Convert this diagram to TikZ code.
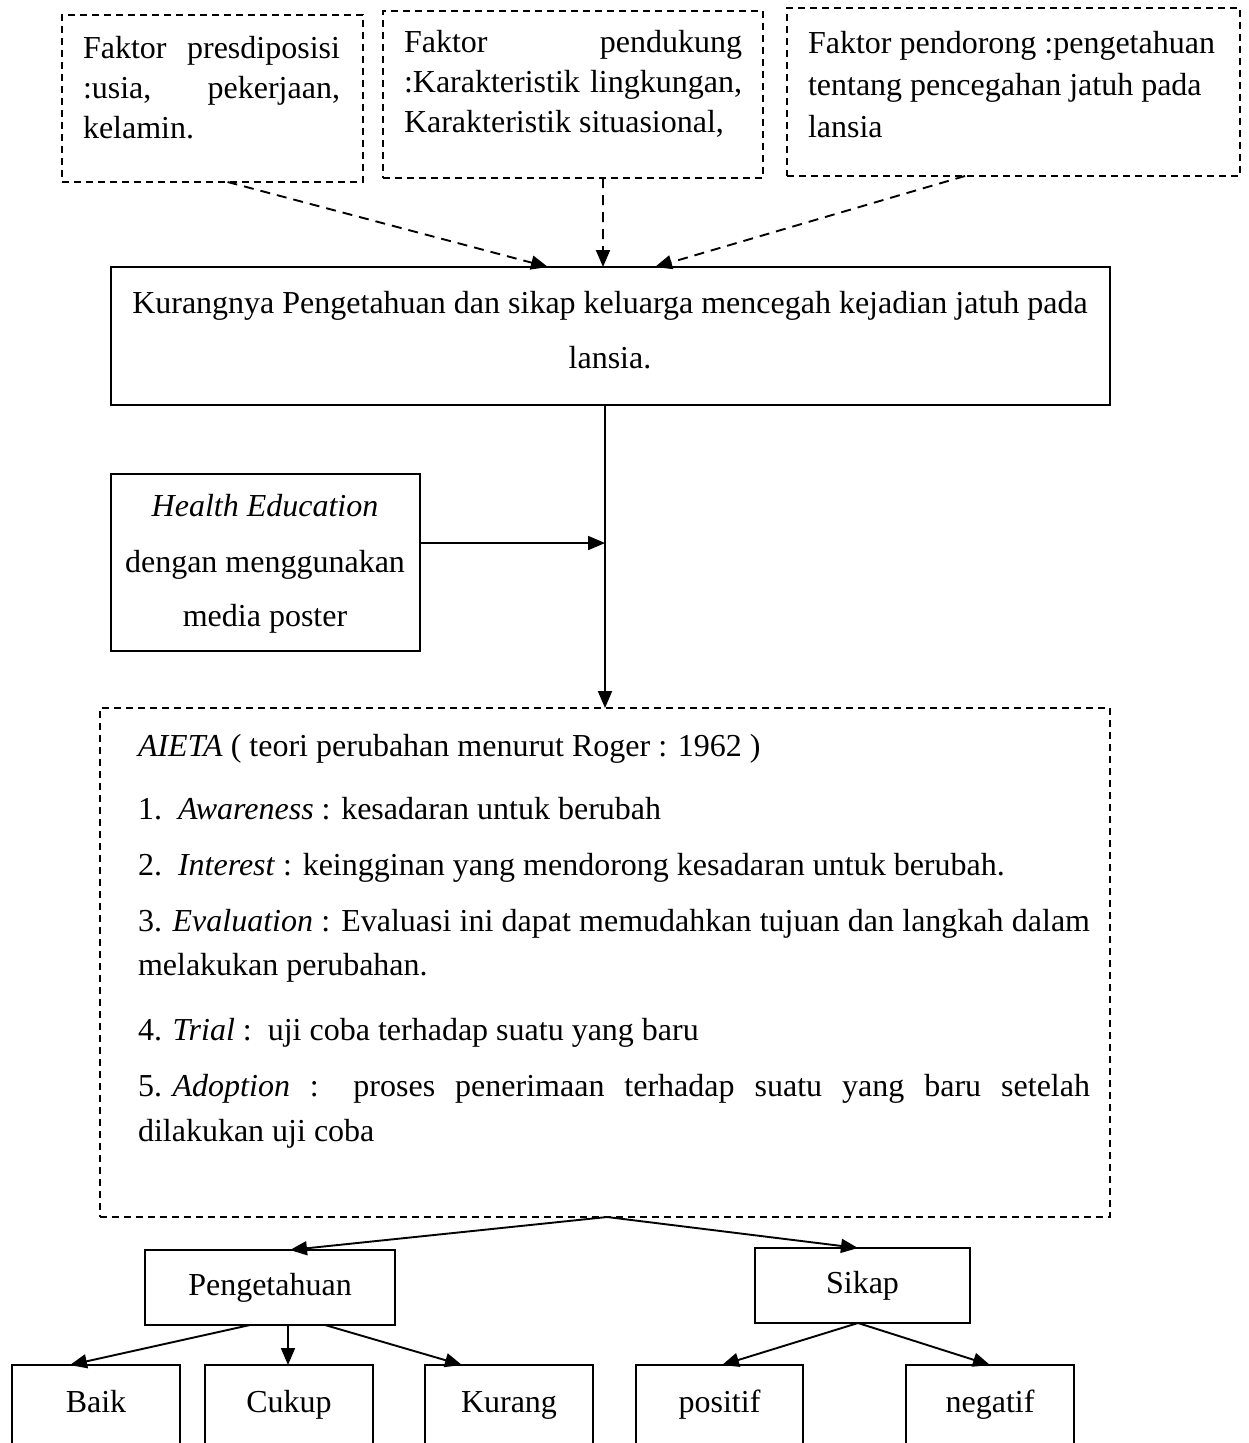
\documentclass[tikz,border=0pt]{standalone}
\usepackage{fontspec}
\setmainfont{Liberation Serif}
\usetikzlibrary{arrows.meta,calc}
\begin{document}
\begin{tikzpicture}[x=1pt,y=-1pt,
  dbox/.style={draw, line width=1.3pt, dash pattern=on 7pt off 5pt, anchor=north west, inner sep=0pt, outer sep=0pt},
  sbox/.style={draw, line width=1.8pt, anchor=north west, inner sep=0pt, outer sep=0pt},
  txt/.style={inner sep=0pt, outer sep=0pt, font=\fontsize{32}{40}\selectfont},
  ltxt/.style={txt, anchor=base west},
  ctxt/.style={txt, anchor=base},
  lbox/.style={sbox, font=\fontsize{32}{40}\selectfont, text height=22pt, text depth=7pt},
  arr/.style={-{Triangle[length=17pt,width=14pt]}, line width=1.9pt},
  darr/.style={arr, dash pattern=on 10pt off 7pt}
]
\useasboundingbox (0,0) rectangle (1249,1443);

% top dashed boxes
\node[dbox, minimum width=301pt, minimum height=167pt] (f1) at (62,15) {};
\node[dbox, minimum width=380pt, minimum height=167pt] (f2) at (383,11) {};
\node[dbox, minimum width=453pt, minimum height=168pt] (f3) at (787,8) {};

\node[ltxt] (t1a) at (83,58) {\makebox[257pt][s]{Faktor presdiposisi}};
\node[ltxt] (t1b) at (83,98) {\makebox[257pt][s]{:usia, pekerjaan,}};
\node[ltxt] (t1c) at (83,138) {kelamin.};

\node[ltxt] (t2a) at (404,52) {\makebox[338pt][s]{Faktor pendukung}};
\node[ltxt] (t2b) at (404,92) {\makebox[338pt][s]{:Karakteristik lingkungan,}};
\node[ltxt] (t2c) at (404,132) {Karakteristik situasional,};

\node[ltxt] (t3a) at (808,53) {Faktor pendorong :pengetahuan};
\node[ltxt] (t3b) at (808,95) {tentang pencegahan jatuh pada};
\node[ltxt] (t3c) at (808,137) {lansia};

% main box
\node[sbox, minimum width=999pt, minimum height=138pt] (k) at (111,267) {};
\node[ctxt] (tka) at (610,313) {Kurangnya Pengetahuan dan sikap keluarga mencegah kejadian jatuh pada};
\node[ctxt] (tkb) at (610,368) {lansia.};

% health education box
\node[sbox, minimum width=309pt, minimum height=177pt] (he) at (111,474) {};
\node[ctxt] (tha) at (265,516) {\textit{Health Education}};
\node[ctxt] (thb) at (265,572) {dengan menggunakan};
\node[ctxt] (thc) at (265,626) {media poster};

% AIETA box
\node[dbox, minimum width=1010pt, minimum height=509pt] (a) at (100,708) {};
\node[ltxt] (ta1) at (138,756) {\textit{AIETA} ( teori perubahan menurut Roger : 1962 )};
\node[ltxt] (ta2) at (138,819) {1.\ \ \textit{Awareness} : kesadaran untuk berubah};
\node[ltxt] (ta3) at (138,875) {2.\ \ \textit{Interest} : keingginan yang mendorong kesadaran untuk berubah.};
\node[ltxt] (ta4) at (138,931) {\makebox[952pt][s]{\mbox{3. \textit{Evaluation}} : Evaluasi ini dapat memudahkan tujuan dan langkah dalam}};
\node[ltxt] (ta5) at (138,975) {melakukan perubahan.};
\node[ltxt] (ta6) at (138,1040) {4. \textit{Trial} :\ \ uji coba terhadap suatu yang baru};
\node[ltxt] (ta7) at (138,1096) {\makebox[952pt][s]{\mbox{5. \textit{Adoption}} : proses penerimaan terhadap suatu yang baru setelah}};
\node[ltxt] (ta8) at (138,1141) {dilakukan uji coba};

% lower boxes
\node[lbox, minimum width=250pt, minimum height=75pt] (p) at (145,1250) {Pengetahuan};
\node[lbox, minimum width=215pt, minimum height=75pt] (s) at (755,1248) {Sikap};
\node[lbox, minimum width=168pt, minimum height=80pt] (b1) at (12,1365) {Baik};
\node[lbox, minimum width=168pt, minimum height=80pt] (b2) at (205,1365) {Cukup};
\node[lbox, minimum width=168pt, minimum height=80pt] (b3) at (425,1365) {Kurang};
\node[lbox, minimum width=167pt, minimum height=80pt] (b4) at (636,1365) {positif};
\node[lbox, minimum width=168pt, minimum height=80pt] (b5) at (906,1365) {negatif};

% connectors
\draw[darr] ($(f1.south west)!0.55!(f1.south east)$) -- ($(k.north west)!0.4374!(k.north east)$);
\draw[darr] ($(f2.south west)!0.579!(f2.south east)$) -- ($(k.north west)!0.4925!(k.north east)$);
\draw[darr] ($(f3.south west)!0.393!(f3.south east)$) -- ($(k.north west)!0.5445!(k.north east)$);

\coordinate (kx) at ($(k.south west)!0.4945!(k.south east)$);
\draw[arr] (kx) -- ($(a.north west)!0.5!(a.north east)$);
\coordinate (hx) at ($(he.north east)!0.39!(he.south east)$);
\draw[arr] (hx) -- (hx -| kx);

\coordinate (ax) at ($(a.south west)!0.502!(a.south east)$);
\draw[arr] (ax) -- ($(p.north west)!0.58!(p.north east)$);
\draw[arr] (ax) -- ($(s.north west)!0.479!(s.north east)$);

\draw[arr] ($(p.south west)!0.42!(p.south east)$) -- ($(b1.north west)!0.345!(b1.north east)$);
\draw[arr] ($(p.south west)!0.572!(p.south east)$) -- ($(b2.north west)!0.494!(b2.north east)$);
\draw[arr] ($(p.south west)!0.72!(p.south east)$) -- ($(b3.north west)!0.22!(b3.north east)$);
\draw[arr] ($(s.south west)!0.479!(s.south east)$) -- ($(b4.north west)!0.515!(b4.north east)$);
\draw[arr] ($(s.south west)!0.479!(s.south east)$) -- ($(b5.north west)!0.5!(b5.north east)$);
\end{tikzpicture}
\end{document}
